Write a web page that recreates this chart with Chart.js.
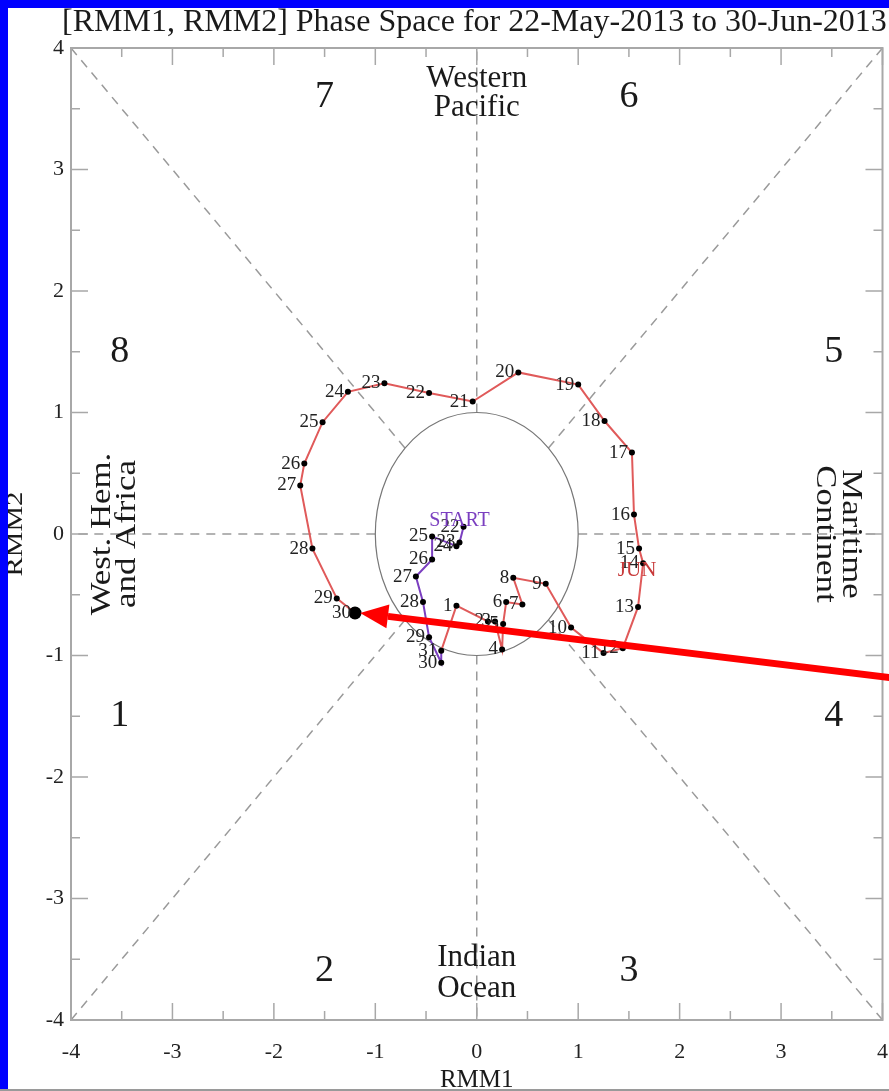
<!DOCTYPE html>
<html>
<head>
<meta charset="utf-8">
<script src="https://cdn.jsdelivr.net/npm/chart.js@4.4.1/dist/chart.umd.min.js"></script>
<style>
  html, body { margin: 0; padding: 0; background: #fff; }
  #wrap { position: relative; width: 889px; height: 1091px; }
</style>
</head>
<body>
<div id="wrap"><canvas id="mjo"></canvas></div>
<script>
// days of each month on the track
const mayDays = [22, 23, 24, 25, 26, 27, 28, 29, 30, 31];
const junDays = [1, 2, 3, 4, 5, 6, 7, 8, 9, 10, 11, 12, 13, 14, 15, 16, 17, 18, 19, 20,
                 21, 22, 23, 24, 25, 26, 27, 28, 29, 30];

// RMM1 / RMM2
const rmm1May = [-0.13, -0.17, -0.20, -0.44, -0.44, -0.60, -0.53, -0.47, -0.35, -0.35];
const rmm2May = [0.06, -0.07, -0.10, -0.02, -0.21, -0.35, -0.56, -0.85, -1.06, -0.96];
const rmm1Jun = [-0.20, 0.11, 0.18, 0.25, 0.26, 0.29, 0.45, 0.36, 0.68, 0.93,
                 1.25, 1.44, 1.59, 1.64, 1.60, 1.55, 1.53, 1.26, 1.00, 0.41,
                 -0.04, -0.47, -0.91, -1.27, -1.52, -1.70, -1.74, -1.62, -1.38, -1.20];
const rmm2Jun = [-0.59, -0.72, -0.72, -0.95, -0.74, -0.56, -0.58, -0.36, -0.41, -0.77,
                 -0.98, -0.94, -0.60, -0.24, -0.12, 0.16, 0.67, 0.93, 1.23, 1.33,
                 1.09, 1.16, 1.24, 1.17, 0.92, 0.58, 0.40, -0.12, -0.53, -0.65];

const axisTicks = [-4, -3, -2, -1, 0, 1, 2, 3, 4];

// red annotation arrow, in RMM units
const arrowTail = [4.25, -1.2];
const arrowTip = [-1.15, -0.65];

const mayColor = '#7b3fc0';
const junColor = '#e05a5a';
const serif = "'Liberation Serif', 'DejaVu Serif', serif";

const track = [];
const dayLabels = [];
mayDays.forEach((d, i) => { track.push({x: rmm1May[i], y: rmm2May[i]}); dayLabels.push(d); });
junDays.forEach((d, i) => { track.push({x: rmm1Jun[i], y: rmm2Jun[i]}); dayLabels.push(d); });

// the source picture is stretched vertically, so rotated text gets sy > 1
function txt(ctx, s, x, y, size, color, align, rot, sy) {
  ctx.save();
  ctx.translate(x, y);
  if (sy) ctx.scale(1, sy);
  if (rot) ctx.rotate(rot);
  ctx.font = size + 'px ' + serif;
  ctx.fillStyle = color;
  ctx.textAlign = align || 'center';
  ctx.textBaseline = 'middle';
  ctx.fillText(s, 0, 0);
  ctx.restore();
}

const phaseBackground = {
  id: 'phaseBackground',
  beforeDatasetsDraw(chart) {
    const {ctx, chartArea: a, scales: {x, y}} = chart;
    const px = v => x.getPixelForValue(v);
    const py = v => y.getPixelForValue(v);
    const r = Math.SQRT1_2;

    ctx.save();
    ctx.strokeStyle = '#9a9a9a';
    ctx.lineWidth = 1.5;
    ctx.setLineDash([9, 7]);
    const segs = [
      [-4, -4, -r, -r], [r, r, 4, 4], [-4, 4, -r, r], [r, -r, 4, -4],
      [0, 1, 0, 4], [0, -1, 0, -4], [1, 0, 4, 0], [-1, 0, -4, 0]
    ];
    segs.forEach(s => {
      ctx.beginPath();
      ctx.moveTo(px(s[0]), py(s[1]));
      ctx.lineTo(px(s[2]), py(s[3]));
      ctx.stroke();
    });
    ctx.setLineDash([]);

    // unit circle
    ctx.strokeStyle = '#777';
    ctx.lineWidth = 1.2;
    ctx.beginPath();
    ctx.ellipse(px(0), py(0), px(1) - px(0), py(0) - py(1), 0, 0, Math.PI * 2);
    ctx.stroke();

    // frame + inward ticks
    ctx.strokeStyle = '#a8a8a8';
    ctx.lineWidth = 2;
    ctx.strokeRect(a.left, a.top, a.right - a.left, a.bottom - a.top);
    ctx.lineWidth = 1.5;
    for (let v = -4; v <= 4; v += 0.5) {
      const len = Number.isInteger(v) ? 17 : 9;
      ctx.beginPath();
      ctx.moveTo(px(v), a.bottom); ctx.lineTo(px(v), a.bottom - len);
      ctx.moveTo(px(v), a.top); ctx.lineTo(px(v), a.top + len);
      ctx.moveTo(a.left, py(v)); ctx.lineTo(a.left + len, py(v));
      ctx.moveTo(a.right, py(v)); ctx.lineTo(a.right - len, py(v));
      ctx.stroke();
    }

    // phase numbers and regions
    const k = '#1a1a1a';
    [[7, -1.5, 3.6], [6, 1.5, 3.6], [8, -3.52, 1.5], [5, 3.52, 1.5],
     [1, -3.52, -1.5], [4, 3.52, -1.5], [2, -1.5, -3.6], [3, 1.5, -3.6]]
      .forEach(p => txt(ctx, String(p[0]), px(p[1]), py(p[2]), 38, k));
    txt(ctx, 'Western', px(0), py(3.75), 31, k);
    txt(ctx, 'Pacific', px(0), py(3.51), 31, k);
    txt(ctx, 'Indian', px(0), py(-3.49), 31, k);
    txt(ctx, 'Ocean', px(0), py(-3.74), 31, k);
    txt(ctx, 'West. Hem.', px(-3.69), py(0), 29, k, 'center', -Math.PI / 2, 1.2);
    txt(ctx, 'and Africa', px(-3.44), py(0), 29, k, 'center', -Math.PI / 2, 1.2);
    txt(ctx, 'Maritime', px(3.69), py(0), 29, k, 'center', Math.PI / 2, 1.2);
    txt(ctx, 'Continent', px(3.43), py(0), 29, k, 'center', Math.PI / 2, 1.2);
    ctx.restore();
  },
  afterDatasetsDraw(chart) {
    const {ctx, scales: {x, y}} = chart;
    const px = v => x.getPixelForValue(v);
    const py = v => y.getPixelForValue(v);
    track.forEach((p, i) => {
      txt(ctx, String(dayLabels[i]), px(p.x) - 4, py(p.y), 19, '#222', 'right');
    });
    txt(ctx, 'START', px(rmm1May[0]) - 4, py(rmm2May[0]) - 6, 20, mayColor, 'center');
    txt(ctx, 'JUN', px(rmm1Jun[14]) - 2, py(rmm2Jun[14]) + 22, 21, '#c83a3a', 'center');

    // red arrow
    const x0 = px(arrowTail[0]), y0 = py(arrowTail[1]);
    const x1 = px(arrowTip[0]), y1 = py(arrowTip[1]);
    const ang = Math.atan2(y1 - y0, x1 - x0);
    const head = 28, half = 12;
    const bx = x1 - head * Math.cos(ang), by = y1 - head * Math.sin(ang);
    ctx.save();
    ctx.strokeStyle = '#ff0000';
    ctx.fillStyle = '#ff0000';
    ctx.lineWidth = 7;
    ctx.beginPath();
    ctx.moveTo(x0, y0); ctx.lineTo(bx, by);
    ctx.stroke();
    ctx.beginPath();
    ctx.moveTo(x1, y1);
    ctx.lineTo(bx + half * Math.sin(ang), by - half * Math.cos(ang));
    ctx.lineTo(bx - half * Math.sin(ang), by + half * Math.cos(ang));
    ctx.closePath();
    ctx.fill();
    ctx.restore();
  },
  afterDraw(chart) {
    const {ctx, width, height} = chart;
    ctx.save();
    txt(ctx, '[RMM1, RMM2] Phase Space for 22-May-2013 to 30-Jun-2013', 62, 23, 32, '#1a1a1a', 'left');
    txt(ctx, 'RMM2', 16, chart.scales.y.getPixelForValue(0), 24, '#1a1a1a', 'center', -Math.PI / 2, 1.2);
    txt(ctx, 'RMM1', chart.scales.x.getPixelForValue(0), 1080, 25, '#1a1a1a', 'center');
    ctx.fillStyle = '#0000ff';
    ctx.fillRect(0, 0, width, 8);
    ctx.fillRect(0, 0, 8, height);
    ctx.fillStyle = '#9a9a9a';
    ctx.fillRect(0, height - 2, width, 2);
    ctx.restore();
  }
};

new Chart(document.getElementById('mjo'), {
  type: 'scatter',
  data: {
    datasets: [{
      data: track,
      showLine: true,
      borderWidth: 2,
      borderColor: junColor,
      segment: {
        borderColor: c => c.p0DataIndex < mayDays.length - 1 ? mayColor : junColor
      },
      pointBackgroundColor: '#000',
      pointBorderColor: '#000',
      pointBorderWidth: 0,
      pointRadius: track.map((p, i) => i === track.length - 1 ? 6.5 : 3),
      tension: 0
    }]
  },
  options: {
    responsive: true,
    maintainAspectRatio: false,
    animation: false,
    layout: { padding: { top: 48, right: 6, bottom: 0, left: 0 } },
    plugins: {
      legend: { display: false },
      tooltip: { enabled: false }
    },
    scales: {
      x: {
        type: 'linear',
        min: -4,
        max: 4,
        afterFit: s => { s.height = 71; s.paddingLeft = 0; s.paddingRight = 0; },
        afterBuildTicks: s => { s.ticks = axisTicks.map(v => ({value: v})); },
        grid: { display: false, drawTicks: false },
        border: { display: false },
        ticks: {
          padding: 19,
          color: '#222',
          font: { family: serif, size: 22 }
        }
      },
      y: {
        type: 'linear',
        min: -4,
        max: 4,
        afterFit: s => { s.width = 71; },
        afterBuildTicks: s => { s.ticks = axisTicks.map(v => ({value: v})); },
        grid: { display: false, drawTicks: false },
        border: { display: false },
        ticks: {
          padding: 7,
          color: '#222',
          font: { family: serif, size: 22 }
        }
      }
    }
  },
  plugins: [phaseBackground]
});
</script>
</body>
</html>
